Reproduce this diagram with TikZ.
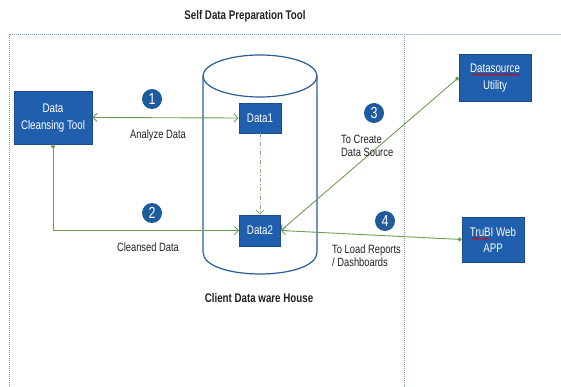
\documentclass[tikz,border=0pt]{standalone}
\usepackage{fontspec}
\setmainfont{Liberation Sans}[FakeStretch=0.78]
\usetikzlibrary{arrows.meta,decorations.pathmorphing}
\definecolor{boxblue}{HTML}{1F5FAD}
\definecolor{boxedge}{HTML}{1A4C8C}
\definecolor{circblue}{HTML}{1D5A9E}
\definecolor{cylblue}{HTML}{2B5C96}
\definecolor{lineg}{HTML}{6E9E4E}
\definecolor{dashg}{HTML}{8FAA7E}
\definecolor{framec}{HTML}{7D9CC6}
\definecolor{lightline}{HTML}{B7C8DF}
\definecolor{txt}{HTML}{222222}
\begin{document}
\begin{tikzpicture}[x=1pt,y=-1pt,
  font=\fontsize{12}{13}\selectfont, text=txt,
  bluebox/.style={draw=boxedge, line width=0.8pt, fill=boxblue, text=white, align=center, inner sep=0pt,
    font=\fontsize{12.5}{17}\selectfont},
  numcirc/.style={circle, fill=circblue, text=white, minimum size=20pt, inner sep=0pt, font=\fontsize{16}{16}\selectfont},
  conn/.style={draw=lineg, line width=0.9pt},
  barb/.tip={Straight Barb[length=4pt,width=8pt]},
  dot/.tip={Circle[length=4pt]},
  lbl/.style={inner sep=0pt, align=left},
  bold/.style={font=\fontsize{12.5}{13}\selectfont\bfseries},
  squig/.style={draw=red!85!black, line width=0.6pt, decorate, decoration={snake, amplitude=0.6pt, segment length=2.2pt}}
]
\useasboundingbox (0,0) rectangle (561,387);
\fill[white] (0,0) rectangle (561,387);

% frame
\draw[framec, line width=0.8pt, dash pattern=on 1.2pt off 0.8pt] (9,387) -- (9,34) -- (404,34) -- (404,387);
\draw[lightline, line width=0.8pt] (404,34) -- (561,34);

\node[bold] (title) at (245,16) {Self Data Preparation Tool};

% cylinder
\draw[cylblue, line width=1.2pt] (203,76) -- (203,252) .. controls (203,281.3) and (317,281.3) .. (317,252) -- (317,76);
\draw[cylblue, line width=1.2pt] (260,76) ellipse [x radius=57pt, y radius=21pt];
\node[bold] (cdw) at (259,298) {Client Data ware House};

% boxes
\node[bluebox, minimum width=78pt, minimum height=53pt] (cleanse) at (53,117.5) {Data\\Cleansing Tool};
\node[bluebox, minimum width=42pt, minimum height=30pt] (data1) at (260,118) {Data1};
\node[bluebox, minimum width=41pt, minimum height=31pt] (data2) at (260,230.5) {Data2};
\node[bluebox, minimum width=72pt, minimum height=47pt] (dsu) at (495,77.5) {Datasource\\Utility};
\node[bluebox, minimum width=62pt, minimum height=45pt, font=\fontsize{12.5}{16}\selectfont] (trubi) at (493,239.5) {TruBI Web\\APP};

% spell-check squiggles
\draw[squig] (471,74.5) -- (519,74.5);
\draw[squig] (471,238.5) -- (489,238.5);

% connectors
\draw[conn, barb-barb] (cleanse.east) -- (data1.west);
\draw[conn, dot-barb] (cleanse.south) |- (data2.west);
\draw[dashg, line width=0.8pt, dash pattern=on 4pt off 2pt on 1pt off 2pt, -barb] (data1.south) -- (data2.north);
\draw[conn, dot-barb] (dsu.west) -- (data2.east);
\draw[conn, dot-barb] (trubi.west) -- (data2.east);

% number circles
\node[numcirc] (n1) at (152,99) {1};
\node[numcirc] (n2) at (152,213) {2};
\node[numcirc] (n3) at (374,113) {3};
\node[numcirc] (n4) at (385,221) {4};

% labels
\node[lbl] (l1) at (158,135) {Analyze Data};
\node[lbl] (l2) at (148,247) {Cleansed Data};
\node[lbl, anchor=north west] (l3) at (341,135) {To Create\\Data Source};
\node[lbl, anchor=north west] (l4) at (332,245) {To Load Reports\\/ Dashboards};
\end{tikzpicture}
\end{document}
